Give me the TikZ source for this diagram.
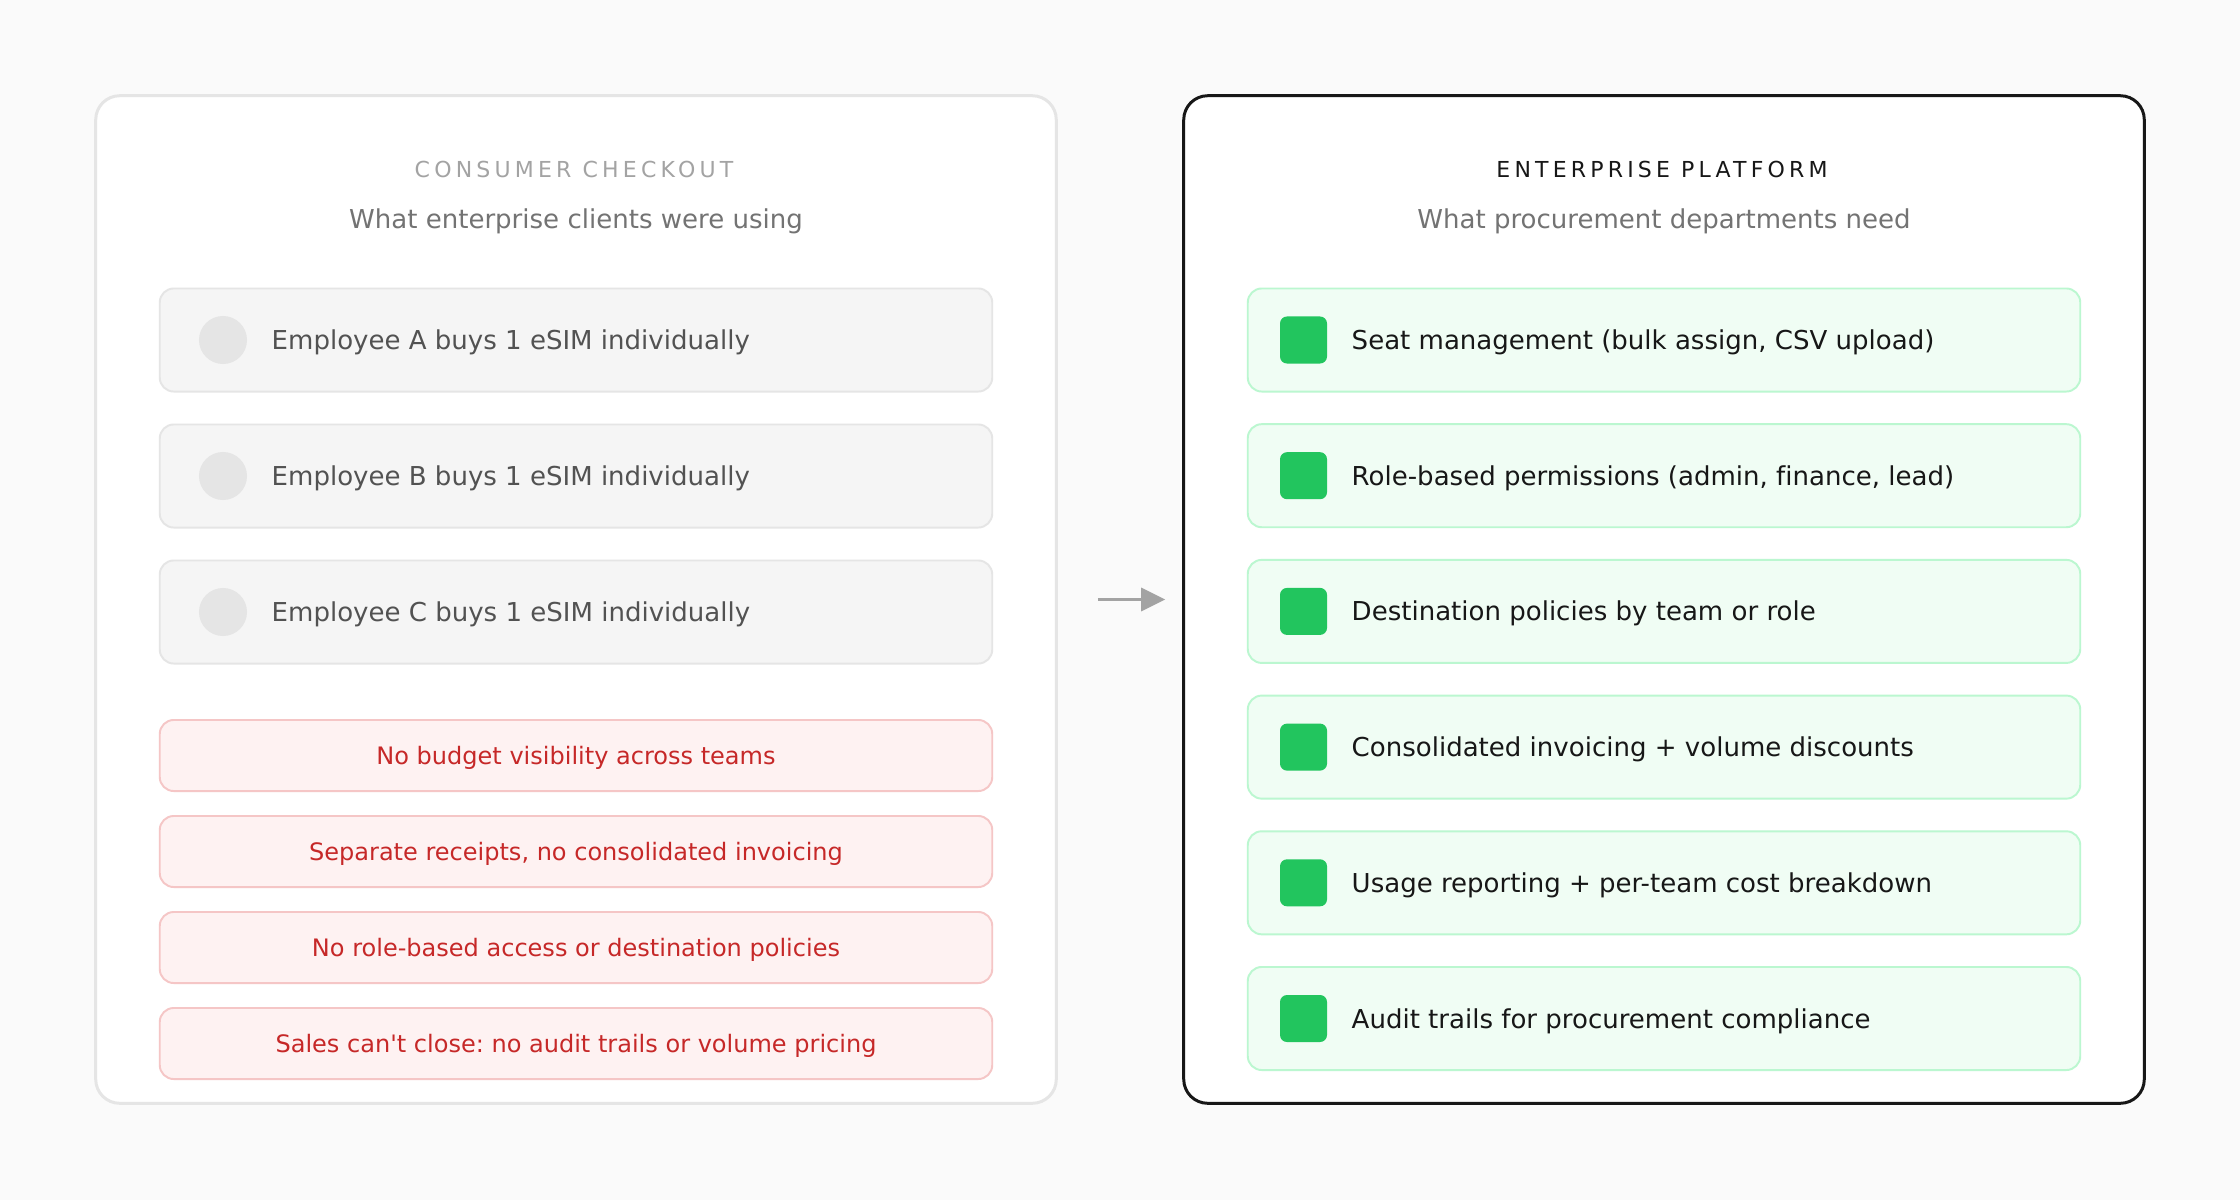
\documentclass[tikz,border=0pt]{standalone}
\usepackage{fontspec}
\setmainfont{DejaVu Sans}[Ligatures={NoCommon}]
\newfontfamily\spaced[LetterSpace=19]{DejaVu Sans}
\usetikzlibrary{arrows.meta,positioning}
\frenchspacing
\definecolor{bg}{HTML}{FAFAFA}
\definecolor{ink}{HTML}{171717}
\definecolor{mute}{HTML}{737373}
\definecolor{faint}{HTML}{A3A3A3}
\definecolor{rule}{HTML}{E5E5E5}
\definecolor{pale}{HTML}{F5F5F5}
\definecolor{slate}{HTML}{525252}
\definecolor{okc}{HTML}{22C55E}
\definecolor{okfill}{HTML}{F0FDF4}
\definecolor{okline}{HTML}{BBF7D0}
\definecolor{badc}{HTML}{C62828}
\definecolor{badfill}{HTML}{FEF2F2}
\definecolor{badline}{HTML}{F5C6C6}
\newcommand{\fsz}[1]{\fontsize{#1}{#1}\selectfont}
\tikzset{panel/.style={rectangle,rounded corners=.24cm,fill=white,minimum width=9.6cm,minimum height=10.07cm,line width=.85pt},
  row/.style={rectangle,rounded corners=.14cm,minimum width=8.32cm,minimum height=1.03cm,line width=.55pt},
  grayrow/.style={row,fill=pale,draw=rule},
  okrow/.style={row,fill=okfill,draw=okline},
  badrow/.style={row,fill=badfill,draw=badline,minimum height=.71cm,text=badc,font=\fsz{6.83pt},text height=.175cm,text depth=0pt},
  dot/.style={circle,fill=rule,minimum size=.48cm,inner sep=0pt},
  tick/.style={rectangle,rounded corners=.07cm,fill=okc,minimum size=.47cm,inner sep=0pt},
  rowtext/.style={anchor=west,inner sep=0pt,text height=.19cm,text depth=0pt,font=\fsz{7.4pt}},
  head/.style={inner sep=0pt,text height=.16cm,text depth=0pt,font=\spaced\fsz{6.26pt}},
  sub/.style={inner sep=0pt,text=mute,text height=.19cm,text depth=0pt,font=\fsz{7.4pt}},
  flow/.style={draw=faint,line width=.85pt,-{Triangle[length=.24cm,width=.23cm]}}}

\begin{document}
\begin{tikzpicture}[x=.01cm,y=-.01cm]
\useasboundingbox[fill=bg] (0,0) rectangle (2240,1200);
\node[panel,draw=rule] (left) at (576,599.5) {};
\node[panel,draw=ink] (right) at (1664,599.5) {};
\node[head,text=faint] (lhead) at (574,169) {CONSUMER CHECKOUT};
\node[sub] (lsub) at (576,219) {What enterprise clients were using};
\node[head,text=ink] (rhead) at (1662,169) {ENTERPRISE PLATFORM};
\node[sub] (rsub) at (1664,219) {What procurement departments need};
\foreach \t [count=\i] in {Employee A buys 1 eSIM individually,Employee B buys 1 eSIM individually,Employee C buys 1 eSIM individually}{
 \node[grayrow] (g\i) at (576,{340+136*(\i-1)}) {};
 \node[dot] (d\i) at (223,{340+136*(\i-1)}) {};
 \node[rowtext,text=slate] (gt\i) at (271,{340+136*(\i-1)}) {\t};
}
\foreach \t [count=\i] in {No budget visibility across teams,{Separate receipts, no consolidated invoicing},No role-based access or destination policies,Sales can\textquotesingle t close: no audit trails or volume pricing}{
 \node[badrow] (b\i) at (576,{755.5+96*(\i-1)}) {\t};
}
\foreach \t [count=\i] in {{Seat management (bulk assign, CSV upload)},{Role-based permissions (admin, finance, lead)},Destination policies by team or role,Consolidated invoicing + volume discounts,Usage reporting + per-team cost breakdown,Audit trails for procurement compliance}{
 \node[okrow] (o\i) at (1664,{340+135.7*(\i-1)}) {};
 \node[tick] (k\i) at (1303.5,{340+135.7*(\i-1)}) {};
 \node[rowtext,text=ink] (ot\i) at (1351,{340+135.7*(\i-1)}) {\t};
}
\draw[flow,shorten <=.4cm,shorten >=.17cm] (left.east) -- (right.west);
\end{tikzpicture}
\end{document}
